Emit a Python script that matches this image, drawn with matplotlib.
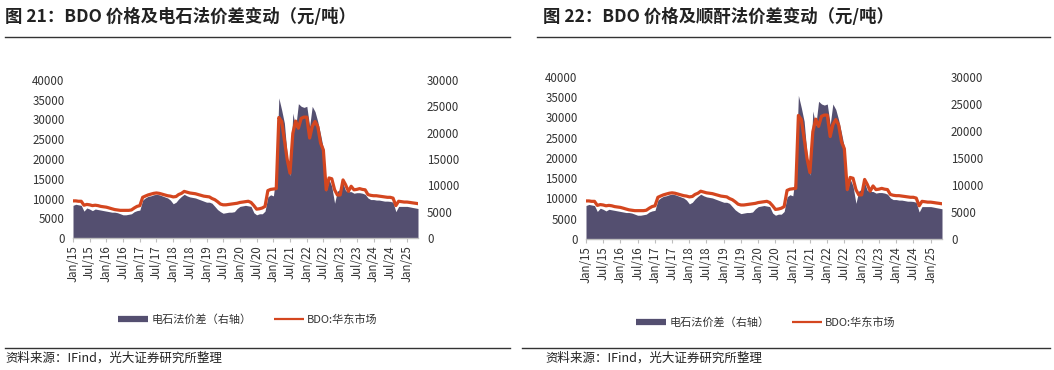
import matplotlib
matplotlib.use("Agg")
import matplotlib.pyplot as plt
import matplotlib.dates as mdates
from matplotlib.lines import Line2D
import pandas as pd

plt.rcParams['font.family'] = ['Noto Sans CJK SC', 'DejaVu Sans']

# ---------------- data (monthly, Jan 2015 - May 2025) ----------------
start_month = "2015-01-01"

# BDO East China market price (left axis, yuan/t)
bdo_price = [
    9400, 9400, 9300, 9300, 8300, 8500, 8400, 8200, 8300, 8200, 8000, 7900,
    7800, 7600, 7400, 7200, 7100, 7000, 7000, 7000, 7000, 7100, 7600, 8000,
    8200, 10300, 10600, 10900, 11100, 11300, 11400, 11300, 11100, 10900, 10700, 10600,
    10400, 10500, 11000, 11300, 11800, 11600, 11400, 11300, 11200, 11000, 10800, 10600,
    10500, 10400, 10000, 9700, 9200, 8600, 8400, 8400, 8500, 8600, 8700, 8800,
    9000, 9100, 9200, 9300, 9000, 8200, 7300, 7400, 7600, 8000, 12000, 12300,
    12400, 12500, 30500, 29500, 24800, 19800, 16400, 26500, 29600, 27800, 30300, 30600,
    30600, 25300, 28200, 29500, 28200, 24000, 22300, 12200, 15200, 15000, 12200, 10900,
    10900, 14700, 13500, 11800, 13100, 12200, 12300, 12500, 12300, 12200, 11000, 10800,
    10700, 10700, 10600, 10500, 10400, 10300, 10300, 10100, 8200, 9300, 9200, 9100,
    9100, 9000, 8900, 8800, 8700,
]

# Calcium-carbide route spread (right axis, yuan/t)
spread = [
    6200, 6400, 6300, 6200, 5100, 5700, 5500, 5200, 5500, 5400, 5300, 5200,
    5100, 5000, 4900, 4900, 4800, 4600, 4400, 4400, 4500, 4600, 5000, 5200,
    5300, 7200, 7600, 7900, 8000, 8200, 8300, 8200, 8000, 7800, 7600, 7200,
    6500, 6800, 7400, 7900, 8300, 8000, 7800, 7700, 7600, 7400, 7200, 7000,
    6800, 6800, 6600, 6000, 5400, 5000, 4700, 4800, 4900, 4900, 5000, 5600,
    6000, 6100, 6200, 6100, 6000, 4800, 4400, 4600, 4600, 5100, 7800, 8200,
    8000, 12300, 26600, 24300, 21800, 15500, 11800, 23700, 21000, 25500, 25000, 24800,
    25000, 21200, 25000, 24000, 22100, 19600, 17000, 8900, 11100, 9800, 6600, 8900,
    9200, 10400, 9000, 8800, 8800, 8500, 8600, 8600, 8500, 8300, 7600, 7300,
    7300, 7200, 7200, 7100, 7000, 7000, 6950, 6800, 5000, 6000, 6000, 6000,
    6000, 5900, 5800, 5700, 5600,
]

left_ticks = [0, 5000, 10000, 15000, 20000, 25000, 30000, 35000, 40000]
right_ticks = [0, 5000, 10000, 15000, 20000, 25000, 30000]

titles = ["图 21：BDO 价格及电石法价差变动（元/吨）",
          "图 22：BDO 价格及顺酐法价差变动（元/吨）"]
legend_labels = ["电石法价差（右轴）", "BDO:华东市场"]
source_text = "资料来源：IFind，光大证券研究所整理"

AREA_C = "#544F70"
LINE_C = "#D4461F"
TXT_C = "#333333"

W, H = 1054, 370
fig = plt.figure(figsize=(W / 100, H / 100), dpi=100)

dates = pd.date_range(start_month, periods=len(bdo_price), freq="MS")


def px_axes(x0, y0, x1, y1):
    return fig.add_axes([x0 / W, 1 - y1 / H, (x1 - x0) / W, (y1 - y0) / H])


def hline(x0, x1, y, color="#333333", lw=1.0):
    fig.add_artist(Line2D([x0 / W, x1 / W], [1 - y / H, 1 - y / H],
                          transform=fig.transFigure, color=color, lw=lw))


panels = [
    dict(box=(73, 80, 418, 238), title_x=5, line_top=(5, 510), line_bot=(5, 510),
         leg_cx=248, leg_y=320, src_x=5),
    dict(box=(586, 77, 942, 239), title_x=543, line_top=(537, 1050), line_bot=(522, 1050),
         leg_cx=766, leg_y=323, src_x=545),
]

for i, p in enumerate(panels):
    x0, y0, x1, y1 = p["box"]
    ax = px_axes(x0, y0, x1, y1)      # area on right-hand scale
    ax2 = ax.twinx()                  # BDO line on left-hand scale

    ax.fill_between(dates, 0, spread, color=AREA_C, lw=0)
    ax.set_ylim(0, 30000)
    ax.set_yticks(right_ticks)
    ax.yaxis.tick_right()
    ax.yaxis.set_label_position("right")

    ax2.plot(dates, bdo_price, color=LINE_C, lw=2.3, solid_joinstyle="round")
    ax2.set_ylim(0, 40000)
    ax2.set_yticks(left_ticks)
    ax2.yaxis.tick_left()

    ax.set_xlim(dates[0], dates[-1])
    ax.xaxis.set_major_locator(mdates.MonthLocator(bymonth=[1, 7]))
    ax.xaxis.set_major_formatter(mdates.DateFormatter("%b/%y"))
    for lab in ax.get_xticklabels():
        lab.set_rotation(90)

    for a in (ax, ax2):
        for s in a.spines.values():
            s.set_visible(False)
    ax.spines["bottom"].set_visible(True)
    ax.spines["bottom"].set_color("#BFBFBF")
    ax.spines["bottom"].set_linewidth(1.0)

    ax.tick_params(axis="x", colors="#BFBFBF", length=3, width=0.8, pad=2,
                   labelcolor=TXT_C, labelsize=8.3)
    ax.tick_params(axis="y", length=0, pad=6.5, labelcolor=TXT_C, labelsize=8.3)
    ax2.tick_params(axis="y", length=0, pad=6, labelcolor=TXT_C, labelsize=8.3)

    # title and rules
    fig.text(p["title_x"] / W, 1 - 17 / H, titles[i], fontsize=12.5,
             fontweight="bold", color="#222222", va="center", ha="left")
    hline(p["line_top"][0], p["line_top"][1], 37)
    hline(p["line_bot"][0], p["line_bot"][1], 348)
    fig.text(p["src_x"] / W, 1 - 358 / H, source_text, fontsize=9,
             color="#222222", va="center", ha="left")

    handles = [Line2D([], [], color=AREA_C, lw=4.5, solid_capstyle="butt"),
               Line2D([], [], color=LINE_C, lw=1.6, solid_capstyle="butt")]
    fig.legend(handles, legend_labels, loc="center",
               bbox_to_anchor=(p["leg_cx"] / W, 1 - p["leg_y"] / H),
               ncol=2, frameon=False, fontsize=8, handlelength=2.7,
               handletextpad=0.3, columnspacing=2.0, labelcolor=TXT_C)

fig.savefig("out.png", dpi=100)
